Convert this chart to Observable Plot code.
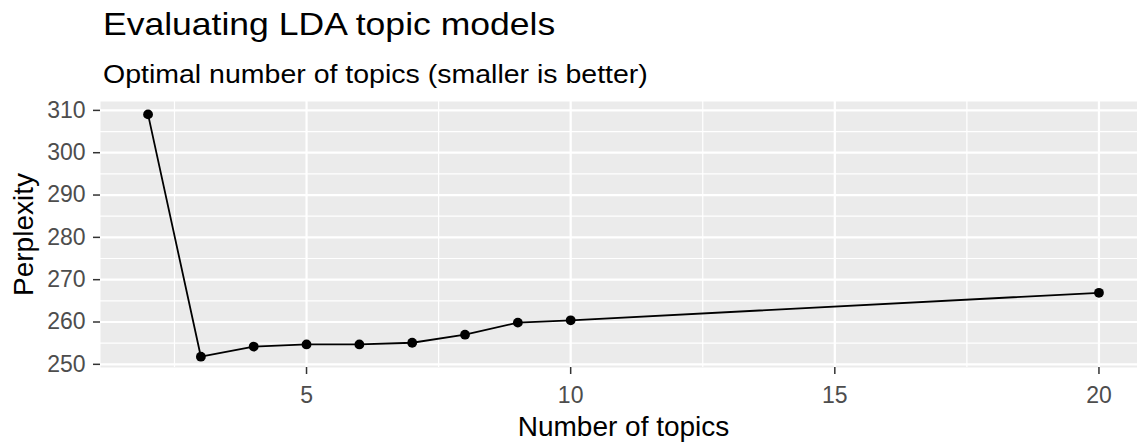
<!DOCTYPE html>
<html>
<head>
<meta charset="utf-8">
<script src="https://cdn.jsdelivr.net/npm/d3@7"></script>
<script src="https://cdn.jsdelivr.net/npm/@observablehq/plot@0.6"></script>
<style>
  html, body { margin: 0; padding: 0; overflow: hidden; background: #fff; }
  #wrap { position: relative; width: 1137px; height: 446px; overflow: hidden; font-family: "Liberation Sans", Arial, sans-serif; }
  .title { position: absolute; left: 103px; top: 8px; font-size: 32px; line-height: 1; color: #000; white-space: nowrap; transform: scaleX(1.11); transform-origin: left top; }
  .subtitle { position: absolute; left: 103px; top: 62px; font-size: 25px; line-height: 1; color: #000; white-space: nowrap; transform: scaleX(1.14); transform-origin: left top; }
  #chart { position: absolute; left: 0; top: 0; width: 1148px; }
  #chart svg { max-width: none !important; }
</style>
</head>
<body>
<div id="wrap">
  <div id="chart"></div>
  <div class="title">Evaluating LDA topic models</div>
  <div class="subtitle">Optimal number of topics (smaller is better)</div>
</div>
<script>
// Data
const topics = [2, 3, 4, 5, 6, 7, 8, 9, 10, 20];
const perplexity = [309.05, 251.8, 254.2, 254.7, 254.7, 255.1, 257.0, 259.85, 260.4, 266.9];

const xMajor = [5, 10, 15, 20];
const xMinor = [2.5, 7.5, 12.5, 17.5];
const yMajor = [250, 260, 270, 280, 290, 300, 310];
const yMinor = [255, 265, 275, 285, 295, 305];

const xLabel = "Number of topics";
const yLabel = "Perplexity";

const data = topics.map((t, i) => ({topics: t, perplexity: perplexity[i]}));

const font = "Liberation Sans, Arial, sans-serif";

const chart = Plot.plot({
  width: 1146,
  height: 446,
  marginLeft: 100,
  marginRight: 0,
  marginTop: 101,
  marginBottom: 79,
  style: {fontFamily: font, background: "transparent", overflow: "visible", maxWidth: "none"},
  x: {domain: [1.1, 20.9]},
  y: {domain: [249.25, 312.1]},
  marks: [
    Plot.frame({fill: "#EBEBEB", stroke: null}),
    Plot.ruleY(yMinor, {stroke: "white", strokeWidth: 1.2}),
    Plot.ruleX(xMinor, {stroke: "white", strokeWidth: 1.2}),
    Plot.ruleY(yMajor, {stroke: "white", strokeWidth: 2.2}),
    Plot.ruleX(xMajor, {stroke: "white", strokeWidth: 2.2}),
    Plot.line(data, {x: "topics", y: "perplexity", stroke: "black", strokeWidth: 1.8}),
    Plot.dot(data, {x: "topics", y: "perplexity", r: 4.9, fill: "black", stroke: null}),
    Plot.axisX({ticks: xMajor, tickSize: 7, text: null, stroke: "#333333", strokeWidth: 1.5, label: null}),
    Plot.axisX({ticks: xMajor, tickSize: 0, tickPadding: 19, fill: "#4D4D4D", fontSize: 23, label: null}),
    Plot.axisY({ticks: yMajor, tickSize: 7, text: null, stroke: "#333333", strokeWidth: 1.5, label: null}),
    Plot.axisY({ticks: yMajor, tickSize: 0, tickPadding: 15, fill: "#4D4D4D", fontSize: 23, label: null}),
    Plot.text([xLabel], {frameAnchor: "bottom", text: d => d, dy: 68, lineAnchor: "bottom", textAnchor: "middle", fontSize: 28, fill: "black"}),
    Plot.text([yLabel], {frameAnchor: "left", text: d => d, dx: -68, rotate: -90, lineAnchor: "bottom", textAnchor: "middle", fontSize: 28, fill: "black"})
  ]
});
document.getElementById("chart").appendChild(chart);
</script>
</body>
</html>
